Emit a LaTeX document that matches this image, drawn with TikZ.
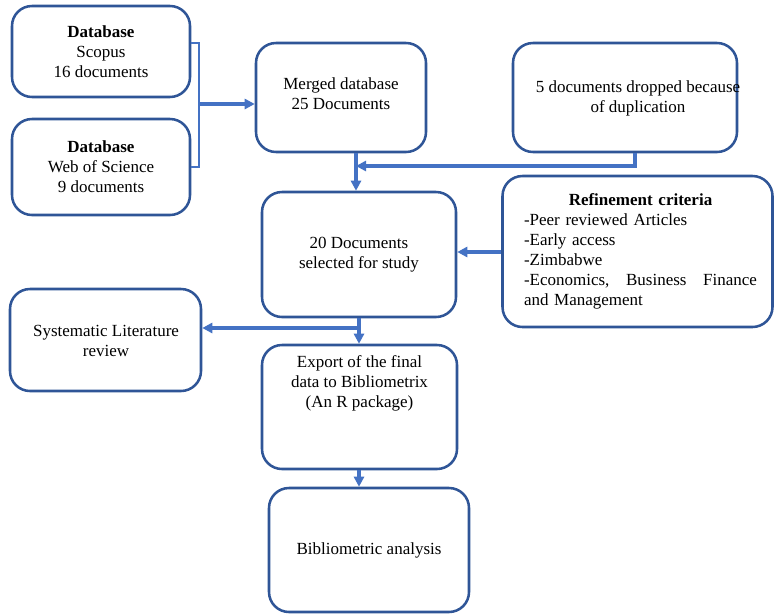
\documentclass[tikz,border=0pt]{standalone}
\usepackage{fontspec}
\setmainfont{Liberation Serif}
\usetikzlibrary{arrows.meta}
\definecolor{boxblue}{HTML}{2F5597}
\definecolor{linkblue}{HTML}{4472C4}
\begin{document}
\begin{tikzpicture}[x=0.75pt,y=-0.75pt,
  box/.style={draw=boxblue,line width=1.9pt,rounded corners=15pt,fill=white,align=center,inner sep=0pt},
  txt/.style={align=center,inner sep=0pt},
  arr/.style={draw=linkblue,line width=2.3pt,-{Triangle[length=7.5pt,width=7.5pt]}},
  brk/.style={draw=linkblue,line width=1.6pt},
  every node/.style={font=\fontsize{12.75pt}{15pt}\selectfont}]
\useasboundingbox (0,0) rectangle (774,614);
\fill[white] (0,0) rectangle (774,614);
% boxes
\node[box,minimum width=133.5pt,minimum height=68.25pt] (scopus) at (101,51.5) {\textbf{Database}\\Scopus\\16 documents};
\node[box,minimum width=133.5pt,minimum height=72pt] (wos) at (101,167) {\textbf{Database}\\Web of Science\\9 documents};
\node[box,minimum width=127.5pt,minimum height=81.75pt] (merged) at (341,97.5) {};
\node[txt] (mergedtxt) at (341,94) {Merged database\\25 Documents};
\node[box,minimum width=168pt,minimum height=81.75pt] (dropped) at (625,97.5) {};
\node[txt] (droppedtxt) at (638,98) {5 documents dropped because\\of duplication};
\node[box,minimum width=145.5pt,minimum height=93.75pt] (selected) at (359,254.5) {20 Documents\\selected for study};
\node[box,minimum width=202.5pt,minimum height=113.25pt] (refine) at (637.5,251.5) {};
\node[inner sep=0pt,text width=174.75pt,align=left] (refinetxt) at (640.5,251) {%
  \centering\textbf{Refinement criteria}\par
  \raggedright -Peer reviewed Articles\\
  -Early access\\
  -Zimbabwe\\
  -Economics,\hfill Business\hfill Finance\\
  and Management};
\node[box,minimum width=143.25pt,minimum height=76.5pt] (slr) at (105.5,340) {};
\node[txt] (slrtxt) at (106,341) {Systematic Literature\\review};
\node[box,minimum width=146.25pt,minimum height=93pt] (export) at (359.5,407) {};
\node[txt] (exporttxt) at (359.5,383.5) {Export of the final\\data to Bibliometrix\\(An R package)};
\node[box,minimum width=150pt,minimum height=93pt] (biblio) at (369,550) {Bibliometric analysis};
% helper coordinates
\coordinate (bt) at (199,43);
\coordinate (bb) at (199,167);
\coordinate (bm) at (199,104);
\coordinate (xa) at (356,0);
\coordinate (xd) at (635,0);
\coordinate (yd) at (0,166);
\coordinate (yr) at (0,252);
\coordinate (xs) at (359,0);
\coordinate (ys) at (0,328);
\coordinate (xe) at (359,0);
% connectors
\draw[brk] (scopus.east |- bt) -- (bt) -- (bb) -- (wos.east |- bb);
\draw[arr] (bm) -- (bm -| merged.west);
\draw[arr] (merged.south -| xa) -- (selected.north -| xa);
\draw[arr] (dropped.south -| xd) |- (xa |- yd);
\draw[arr] (refine.west |- yr) -- (selected.east |- yr);
\draw[arr] (selected.south -| xs) -- (export.north -| xs);
\draw[arr] (xs |- ys) -- (slr.east |- ys);
\draw[arr] (export.south -| xe) -- (biblio.north -| xe);
\end{tikzpicture}
\end{document}
